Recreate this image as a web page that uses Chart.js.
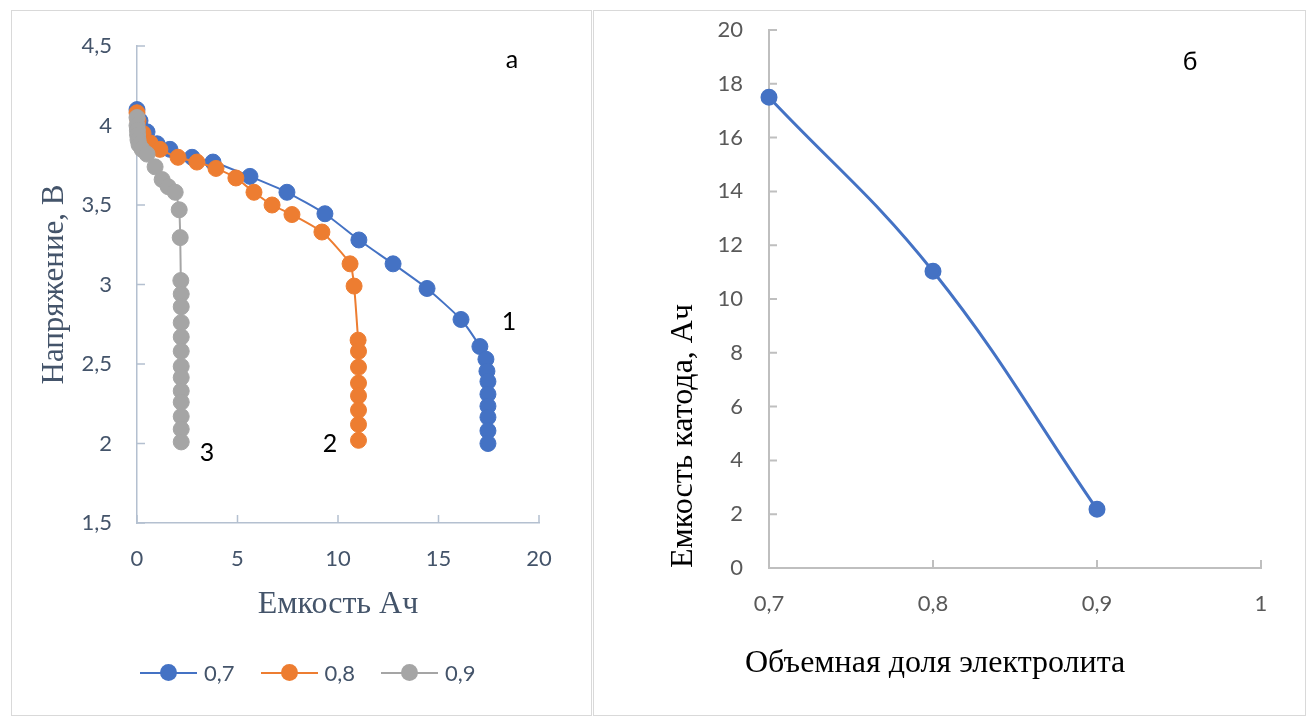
<!DOCTYPE html>
<html lang="ru">
<head>
<meta charset="UTF-8">
<title>Разряд</title>
<script src="https://cdn.jsdelivr.net/npm/chart.js"></script>
<style>
  body { margin: 0; background: #fff; width: 1310px; height: 727px; position: relative; overflow: hidden; }
  .panel { position: absolute; border: 1px solid #d9d9d9; box-sizing: border-box; }
  canvas { position: absolute; top: 0; }
  .lbl { position: absolute; font-family: Lato, sans-serif; font-size: 25px; color: #000; transform: translate(-50%, -50%); }
  #legend { position: absolute; top: 659px; left: 140px; font-family: Lato, sans-serif; font-size: 22px; color: #44546a; display: flex; }
  .item { display: flex; align-items: center; margin-right: 26px; }
  .mark { position: relative; width: 57px; height: 2px; margin-right: 7px; }
  .mark span { position: absolute; left: 20px; top: -8px; width: 17px; height: 17px; border-radius: 50%; }
  #xtitle2 { position: absolute; left: 745px; top: 643px; font-family: "Liberation Serif", serif; font-size: 32px; color: #000; white-space: nowrap; }
</style>
</head>
<body>
<div class="panel" style="left:11px;top:10px;width:581px;height:706px"></div>
<div class="panel" style="left:593px;top:10px;width:713px;height:706px"></div>

<canvas id="chartA" width="592" height="727" style="left:0"></canvas>
<canvas id="chartB" width="717" height="727" style="left:593px"></canvas>

<div class="lbl" style="left:512px;top:58px">а</div>
<div class="lbl" style="left:509px;top:320px">1</div>
<div class="lbl" style="left:330px;top:442px">2</div>
<div class="lbl" style="left:207px;top:451px">3</div>
<div class="lbl" style="left:1190px;top:60px">б</div>
<div id="legend"></div>
<div id="xtitle2">Объемная доля электролита</div>

<script>
// --- данные (а): емкость, Ач и напряжение, В
var seriesNames = ['0,7', '0,8', '0,9'];
var seriesColors = ['#4472c4', '#ed7d31', '#a5a5a5'];

var cap07 = [0, 0.15, 0.5, 1.0, 1.64, 2.74, 3.78, 5.62, 7.46, 9.35, 11.04, 12.74, 14.43, 16.12, 17.06, 17.36, 17.41, 17.46, 17.46, 17.46, 17.46, 17.46, 17.46];
var volt07 = [4.10, 4.03, 3.96, 3.885, 3.85, 3.80, 3.77, 3.68, 3.58, 3.445, 3.28, 3.13, 2.975, 2.78, 2.61, 2.53, 2.455, 2.39, 2.31, 2.235, 2.165, 2.08, 2.00];

var cap08 = [0, 0.05, 0.3, 0.65, 1.14, 2.04, 2.98, 3.93, 4.92, 5.82, 6.72, 7.71, 9.20, 10.60, 10.80, 11.0, 11.02, 11.02, 11.02, 11.02, 11.02, 11.02, 11.02];
var volt08 = [4.08, 4.03, 3.95, 3.89, 3.85, 3.80, 3.77, 3.73, 3.67, 3.58, 3.50, 3.44, 3.33, 3.13, 2.99, 2.65, 2.58, 2.48, 2.38, 2.30, 2.21, 2.12, 2.02];

var cap09 = [0, 0, 0.02, 0.03, 0.05, 0.1, 0.25, 0.5, 0.9, 1.25, 1.55, 1.9, 2.1, 2.15, 2.18, 2.2, 2.2, 2.2, 2.2, 2.2, 2.2, 2.2, 2.2, 2.2, 2.2, 2.2, 2.2];
var volt09 = [4.05, 4.00, 3.97, 3.94, 3.91, 3.88, 3.85, 3.82, 3.74, 3.66, 3.615, 3.58, 3.47, 3.295, 3.025, 2.94, 2.86, 2.76, 2.67, 2.58, 2.485, 2.415, 2.33, 2.26, 2.17, 2.09, 2.01];

// --- данные (б): объемная доля электролита и емкость катода
var volFrac = [0.7, 0.8, 0.9];
var capCathode = [17.5, 11.03, 2.18];

Chart.defaults.font.family = 'Lato, sans-serif';

// засечки внутрь области графика, как в Excel
var innerTicks = {
  id: 'innerTicks',
  beforeDatasetsDraw: function (chart, args, opts) {
    var ctx = chart.ctx, a = chart.chartArea;
    var xs = chart.scales.x, ys = chart.scales.y;
    ctx.save();
    ctx.strokeStyle = opts.color;
    ctx.lineWidth = opts.width;
    ctx.beginPath();
    xs.ticks.forEach(function (t) {
      var px = xs.getPixelForValue(t.value);
      ctx.moveTo(px, a.bottom); ctx.lineTo(px, a.bottom - opts.len);
    });
    ys.ticks.forEach(function (t) {
      var py = ys.getPixelForValue(t.value);
      ctx.moveTo(a.left, py); ctx.lineTo(a.left + opts.len, py);
    });
    ctx.stroke();
    ctx.restore();
  }
};

function comma(v) { return String(Math.round(v * 10) / 10).replace('.', ','); }

function pts(xs, ys) { return xs.map(function (x, i) { return { x: x, y: ys[i] }; }); }

// невидимые засечки задают отступ подписей, не сдвигая область графика
function gridOpts(len) {
  return { display: true, drawOnChartArea: false, drawTicks: true, tickLength: len, tickColor: 'rgba(0,0,0,0)' };
}

var caps = [cap07, cap08, cap09];
var volts = [volt07, volt08, volt09];

var dsA = seriesNames.map(function (name, i) {
  return {
    label: name,
    data: pts(caps[i], volts[i]),
    showLine: true,
    borderColor: seriesColors[i],
    backgroundColor: seriesColors[i],
    borderWidth: 2,
    pointRadius: 8,
    pointHoverRadius: 8,
    pointBorderWidth: 1,
    pointBorderColor: seriesColors[i],
    tension: 0.2,
    clip: false,
    order: 3 - i
  };
});

var slate = '#44546a';
var axisA = '#b4c0d0';
var serif = '"Liberation Serif", serif';

new Chart(document.getElementById('chartA'), {
  type: 'scatter',
  data: { datasets: dsA },
  plugins: [innerTicks],
  options: {
    responsive: false,
    animation: false,
    layout: { padding: { left: 20, right: 53, top: 46, bottom: 100 } },
    plugins: {
      legend: { display: false },
      tooltip: { enabled: false },
      innerTicks: { color: axisA, width: 1.5, len: 8 }
    },
    scales: {
      x: {
        type: 'linear', min: 0, max: 20,
        ticks: { stepSize: 5, color: slate, font: { size: 22 }, padding: 4, callback: comma },
        grid: gridOpts(19),
        border: { display: true, color: axisA, width: 1.5 },
        title: { display: true, text: 'Емкость Ач', color: slate, font: { family: serif, size: 32 }, padding: { bottom: 3 } },
        afterFit: function (s) { s.height = 104; }
      },
      y: {
        type: 'linear', min: 1.5, max: 4.5,
        ticks: { stepSize: 0.5, color: slate, font: { size: 22 }, padding: 5, callback: comma },
        grid: gridOpts(20),
        border: { display: true, color: axisA, width: 1.5 },
        title: { display: true, text: 'Напряжение, В', color: slate, font: { family: serif, size: 31 }, padding: { top: 16 } },
        afterFit: function (s) { s.width = 117; }
      }
    }
  }
});

var grayText = '#595959';
var axisB = '#bfbfbf';

new Chart(document.getElementById('chartB'), {
  type: 'scatter',
  data: {
    datasets: [{
      label: 'Емкость катода',
      data: pts(volFrac, capCathode),
      showLine: true,
      borderColor: '#4472c4',
      backgroundColor: '#4472c4',
      borderWidth: 3,
      pointRadius: 7,
      pointHoverRadius: 7,
      tension: 0.4,
      clip: false
    }]
  },
  plugins: [innerTicks],
  options: {
    responsive: false,
    animation: false,
    layout: { padding: { left: 20, right: 49, top: 30, bottom: 100 } },
    plugins: {
      legend: { display: false },
      tooltip: { enabled: false },
      innerTicks: { color: axisB, width: 2, len: 8 }
    },
    scales: {
      x: {
        type: 'linear', min: 0.7, max: 1,
        ticks: { stepSize: 0.1, color: grayText, font: { size: 22 }, padding: 4, callback: comma },
        grid: gridOpts(19),
        border: { display: true, color: axisB, width: 2 },
        afterFit: function (s) { s.height = 59; }
      },
      y: {
        type: 'linear', min: 0, max: 20,
        ticks: { stepSize: 2, color: grayText, font: { size: 22 }, padding: 6, callback: comma },
        grid: gridOpts(20),
        border: { display: true, color: axisB, width: 2 },
        title: { display: true, text: 'Емкость катода, Ач', align: 'start', color: '#000', font: { family: serif, size: 32 }, padding: { top: 51 } },
        afterFit: function (s) { s.width = 156; }
      }
    }
  }
});

// легенда (а)
var legend = document.getElementById('legend');
seriesNames.forEach(function (name, i) {
  var item = document.createElement('div');
  item.className = 'item';
  item.innerHTML = '<div class="mark" style="background:' + seriesColors[i] + '"><span style="background:' + seriesColors[i] + '"></span></div>' + name;
  legend.appendChild(item);
});
</script>
</body>
</html>
